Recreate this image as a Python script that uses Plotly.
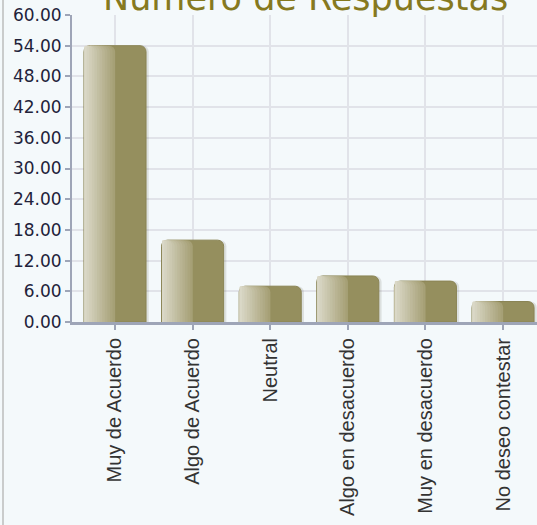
import plotly.graph_objects as go

categories = ["Muy de Acuerdo", "Algo de Acuerdo", "Neutral",
              "Algo en desacuerdo", "Muy en desacuerdo", "No deseo contestar"]
respuestas = [54, 16, 7, 9, 8, 4]
y_tick_values = [0, 6, 12, 18, 24, 30, 36, 42, 48, 54, 60]
title_text = "Número de Respuestas"

BG = "#F4F9FB"
OLIVE = "#958F5E"
EDGE = "#8A8454"
GRID = "#E1E3E9"
AXIS = "#9EA5B7"

BAR_W = 0.8
RADIUS = 6

fig = go.Figure()

# soft shadow
fig.add_trace(go.Bar(
    x=categories, y=respuestas, width=BAR_W, offset=-BAR_W / 2 + 0.035,
    marker=dict(color="rgba(60,60,40,0.13)", cornerradius=RADIUS, line=dict(width=0)),
    hoverinfo="skip", showlegend=False))

# main bar (dark right half)
fig.add_trace(go.Bar(
    x=categories, y=respuestas, width=BAR_W, offset=-BAR_W / 2,
    marker=dict(color=OLIVE, cornerradius=RADIUS, line=dict(width=1, color=EDGE)),
    hoverinfo="skip", showlegend=False))

# left-half gradient, drawn as nested strips sharing the left edge
n = 12
c_dark = (166, 160, 118)
c_light = (218, 216, 199)
for i in range(n):
    t = i / (n - 1)
    col = tuple(round(c_dark[k] + (c_light[k] - c_dark[k]) * t) for k in range(3))
    w = BAR_W / 2 * (1 - i / n) - 0.004
    fig.add_trace(go.Bar(
        x=categories, y=respuestas, width=w, offset=-BAR_W / 2 + 0.006,
        marker=dict(color="rgb(%d,%d,%d)" % col, cornerradius=RADIUS, line=dict(width=0)),
        hoverinfo="skip", showlegend=False))

fig.update_layout(
    width=537, height=525,
    barmode="overlay",
    paper_bgcolor=BG, plot_bgcolor=BG,
    margin=dict(l=72, r=0, t=15, b=203, autoexpand=False),
    annotations=[dict(text=title_text, xref="paper", yref="paper",
                      x=(305 - 72) / 465, xanchor="center",
                      y=0.985, yanchor="bottom", showarrow=False,
                      font=dict(family="DejaVu Sans", size=35, color="#86791F"))],
    xaxis=dict(type="category", range=[-0.554, 5.438], automargin=False,
               showgrid=True, gridcolor=GRID, gridwidth=2,
               showline=True, linecolor=AXIS, linewidth=3,
               ticks="outside", ticklen=5, tickwidth=2, tickcolor=AXIS,
               tickangle=-90,
               tickfont=dict(family="Liberation Sans", size=20, color="#333333"),
               zeroline=False),
    yaxis=dict(range=[0, 60], tickvals=y_tick_values, tickformat=".2f", automargin=False,
               showgrid=True, gridcolor=GRID, gridwidth=2,
               showline=True, linecolor=AXIS, linewidth=2,
               ticks="outside", ticklen=5, tickwidth=2, tickcolor=AXIS,
               tickfont=dict(family="DejaVu Sans", size=17, color="#22223A"),
               zeroline=False),
    shapes=[dict(type="line", xref="paper", yref="paper",
                 x0=(3 - 72) / 465, x1=(3 - 72) / 465, y0=-0.67, y1=1.06,
                 line=dict(color="#BDBDBD", width=1.5))],
)

fig.write_html("out.html", config={"displayModeBar": False},
               post_script="document.body.style.margin='0';")
